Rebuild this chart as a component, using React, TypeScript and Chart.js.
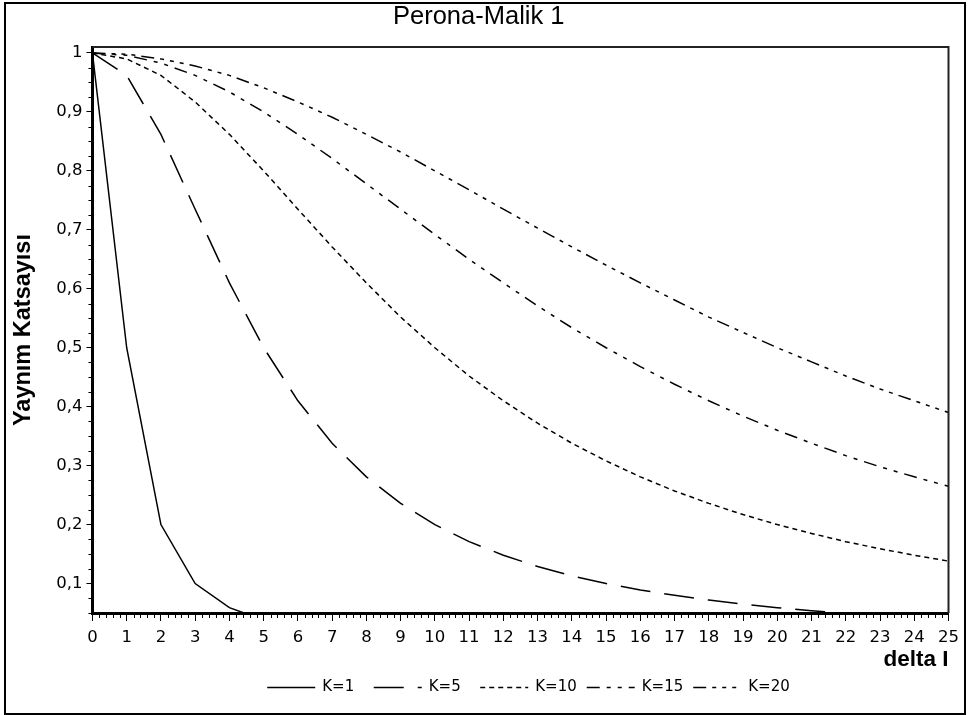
import React, { useEffect, useRef } from 'react';
import { Chart, registerables } from 'chart.js';

Chart.register(...registerables);

const chartTitle = 'Perona-Malik 1';
const xTitle = 'delta I';
const yTitle = 'Yaynım Katsayısı';

const xValues = [0, 1, 2, 3, 4, 5, 6, 7, 8, 9, 10, 11, 12, 13, 14, 15, 16, 17, 18, 19, 20, 21, 22, 23, 24, 25];
const seriesLabels = ['K=1', 'K=5', 'K=10', 'K=15', 'K=20'];
const k1 = [1, 0.5, 0.2, 0.1, 0.059, 0.038, 0.027, 0.02, 0.015, 0.012, 0.01, 0.008, 0.007, 0.006, 0.005, 0.004, 0.004, 0.003, 0.003, 0.003, 0.002, 0.002, 0.002, 0.002, 0.002, 0.002];
const k5 = [1, 0.962, 0.862, 0.735, 0.61, 0.5, 0.41, 0.338, 0.281, 0.236, 0.2, 0.171, 0.148, 0.129, 0.113, 0.1, 0.089, 0.08, 0.072, 0.065, 0.059, 0.054, 0.049, 0.045, 0.042, 0.038];
const k10 = [1, 0.99, 0.962, 0.917, 0.862, 0.8, 0.735, 0.671, 0.61, 0.552, 0.5, 0.452, 0.41, 0.372, 0.338, 0.308, 0.281, 0.257, 0.236, 0.217, 0.2, 0.185, 0.171, 0.159, 0.148, 0.138];
const k15 = [1, 0.996, 0.983, 0.962, 0.934, 0.9, 0.862, 0.821, 0.778, 0.735, 0.692, 0.65, 0.61, 0.571, 0.534, 0.5, 0.468, 0.438, 0.41, 0.384, 0.36, 0.338, 0.317, 0.298, 0.281, 0.265];
const k20 = [1, 0.998, 0.99, 0.978, 0.962, 0.941, 0.917, 0.891, 0.862, 0.832, 0.8, 0.768, 0.735, 0.703, 0.671, 0.64, 0.61, 0.581, 0.552, 0.526, 0.5, 0.476, 0.452, 0.43, 0.41, 0.39];
const seriesValues = [k1, k5, k10, k15, k20];
const yTickValues = [0.1, 0.2, 0.3, 0.4, 0.5, 0.6, 0.7, 0.8, 0.9, 1];

const dashStyles: number[][] = [[], [30, 14], [5, 4], [13, 7, 4, 7, 4, 7], [13, 6, 4, 6, 4, 6, 4, 6]];
const SANS = "'Liberation Sans', Arial, sans-serif";
const TICKFONT = "'DejaVu Sans', sans-serif";

const framePlugin = {
  id: 'frame',
  afterDraw(chart: any) {
    const { ctx, chartArea } = chart;
    const { left, right, top, bottom } = chartArea;
    ctx.save();
    ctx.strokeStyle = '#222';
    ctx.lineWidth = 2;
    ctx.beginPath();
    ctx.moveTo(left, top);
    ctx.lineTo(right, top);
    ctx.lineTo(right, bottom);
    ctx.stroke();
    ctx.strokeStyle = '#000';
    ctx.lineWidth = 1;
    const xs = chart.scales.x;
    for (let i = 0; i <= 125; i++) {
      if (i % 5 === 0) continue;
      const px = Math.round(xs.getPixelForValue(i / 5)) + 0.5;
      ctx.beginPath();
      ctx.moveTo(px, bottom + 1);
      ctx.lineTo(px, bottom + 5);
      ctx.stroke();
    }
    const ys = chart.scales.y;
    for (let i = 2; i <= 40; i++) {
      if (i % 4 === 0) continue;
      const py = Math.round(ys.getPixelForValue(i * 0.025)) + 0.5;
      ctx.beginPath();
      ctx.moveTo(left - 1, py);
      ctx.lineTo(left - 4, py);
      ctx.stroke();
    }
    ctx.font = `bold 22.5px ${SANS}`;
    ctx.fillStyle = '#000';
    ctx.textAlign = 'right';
    ctx.textBaseline = 'middle';
    ctx.fillText(xTitle, right, 660);
    ctx.restore();
  },
};

const legendPlugin = {
  id: 'customLegend',
  afterDraw(chart: any) {
    const { ctx, chartArea } = chart;
    ctx.save();
    ctx.font = `15px ${TICKFONT}`;
    const lineLen = 48;
    const textOffset = 55;
    const slot = 106.5;
    const items = chart.data.datasets.map((d: any) => ({
      text: d.label,
      dash: d.borderDash || [],
      w: ctx.measureText(d.label).width,
    }));
    const n = items.length;
    const total = (n - 1) * slot + textOffset + items[n - 1].w;
    const cx = (chartArea.left + chartArea.right) / 2 + 8;
    const x0 = cx - total / 2;
    const y = 687;
    ctx.textBaseline = 'middle';
    ctx.textAlign = 'left';
    ctx.fillStyle = '#000';
    items.forEach((it: any, i: number) => {
      const x = x0 + i * slot;
      ctx.strokeStyle = '#000';
      ctx.lineWidth = 1.5;
      ctx.setLineDash(it.dash);
      ctx.beginPath();
      ctx.moveTo(x, y + 0.5);
      ctx.lineTo(x + lineLen, y + 0.5);
      ctx.stroke();
      ctx.setLineDash([]);
      ctx.fillText(it.text, x + textOffset, y);
    });
    ctx.restore();
  },
};

export default function App() {
  const ref = useRef<HTMLCanvasElement | null>(null);
  useEffect(() => {
    if (!ref.current) return;
    const chart = new Chart(ref.current, {
      type: 'line',
      data: {
        datasets: seriesLabels.map((label, i) => ({
          label,
          data: xValues.map((x, j) => ({ x, y: seriesValues[i][j] })),
          borderColor: '#000',
          backgroundColor: '#000',
          borderWidth: 1.5,
          borderDash: dashStyles[i],
          pointRadius: 0,
          tension: 0,
          fill: false,
        })),
      },
      options: {
        animation: false,
        responsive: false,
        devicePixelRatio: 1,
        layout: { padding: { left: 9, right: 20.5, top: 2, bottom: 60.2 } },
        plugins: {
          legend: { display: false },
          tooltip: { enabled: false },
          title: {
            display: true,
            text: chartTitle,
            color: '#000',
            font: { family: SANS, size: 25.5, weight: 'normal' },
            padding: { top: 0, bottom: 14.5 },
          },
        },
        scales: {
          x: {
            type: 'linear',
            min: 0,
            max: 25,
            ticks: {
              stepSize: 1,
              autoSkip: false,
              maxRotation: 0,
              color: '#000',
              padding: 7,
              font: { family: TICKFONT, size: 16.5 },
            },
            grid: { drawOnChartArea: false, drawTicks: true, tickLength: 8, color: '#000', tickWidth: 1 },
            border: { display: true, width: 3, color: '#000' },
            title: { display: false },
          },
          y: {
            type: 'linear',
            min: 0.05,
            max: 1.01,
            afterBuildTicks: (scale: any) => {
              scale.ticks = yTickValues.map((v) => ({ value: v }));
            },
            ticks: {
              color: '#000',
              padding: 4,
              font: { family: TICKFONT, size: 16.5 },
              callback: (v: any) => String(Math.round(Number(v) * 10) / 10).replace('.', ','),
            },
            grid: { drawOnChartArea: false, drawTicks: true, tickLength: 6, color: '#000', tickWidth: 1 },
            border: { display: true, width: 3, color: '#000' },
            title: {
              display: true,
              text: yTitle,
              color: '#000',
              font: { family: SANS, size: 23.5, weight: 'bold' },
              padding: { top: 0, bottom: 15 },
            },
          },
        },
      },
      plugins: [framePlugin, legendPlugin],
    });
    return () => chart.destroy();
  }, []);
  return (
    <div style={{ position: 'absolute', left: 0, top: 0, width: 969, height: 715, background: '#fff' }}>
      <canvas ref={ref} width={969} height={715} style={{ position: 'absolute', left: 0, top: 0 }} />
      <div
        style={{
          position: 'absolute',
          left: 4,
          top: 2,
          width: 958,
          height: 709,
          border: '2px solid #000',
          pointerEvents: 'none',
        }}
      />
    </div>
  );
}
